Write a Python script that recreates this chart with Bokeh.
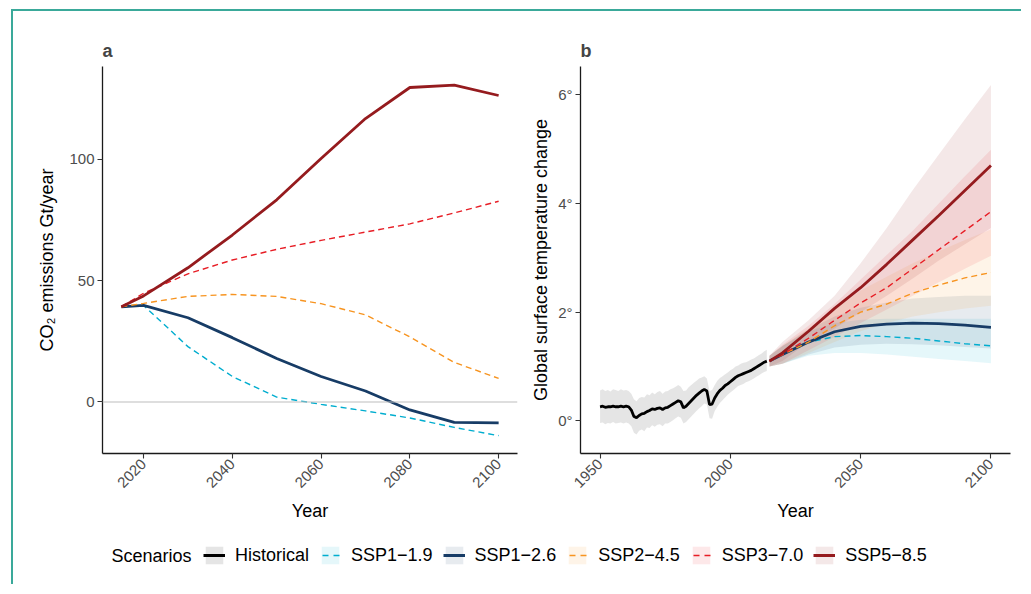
import math
from bokeh.plotting import figure
from bokeh.models import FixedTicker, Range1d, Span, Legend, LegendItem, Label
from bokeh.layouts import row, column
from bokeh.embed import file_html
from bokeh.resources import INLINE

FONT = "Liberation Sans"
NAN = float("nan")

# ---------------- data ----------------
proj_years = [2015, 2020, 2030, 2040, 2050, 2060, 2070, 2080, 2090, 2100]

# panel a: CO2 emissions (Gt/year)
em_ssp119 = [39.2, 39.8, 22.8, 10.5, 2.0, -1.0, -3.7, -6.6, -10.5, -13.9]
em_ssp126 = [39.2, 39.8, 34.7, 26.5, 17.9, 10.5, 4.5, -3.3, -8.4, -8.6]
em_ssp245 = [39.2, 40.6, 43.5, 44.3, 43.5, 40.5, 35.9, 26.8, 16.3, 9.7]
em_ssp370 = [39.2, 44.8, 52.8, 58.5, 62.9, 66.6, 70.0, 73.4, 77.9, 82.7]
em_ssp585 = [39.2, 43.7, 55.3, 68.8, 83.3, 100.3, 116.8, 129.6, 130.6, 126.3]

# panel b: historical temperature change
hist_years = list(range(1950, 2015))
hist_mid = [0.26, 0.27, 0.25, 0.26, 0.26, 0.27, 0.26, 0.26, 0.27, 0.26,
            0.27, 0.26, 0.20, 0.08, 0.06, 0.10, 0.13, 0.14, 0.17, 0.19,
            0.22, 0.21, 0.23, 0.24, 0.21, 0.24, 0.25, 0.28, 0.31, 0.34,
            0.37, 0.35, 0.24, 0.27, 0.32, 0.37, 0.42, 0.47, 0.51, 0.55,
            0.58, 0.55, 0.30, 0.31, 0.42, 0.50, 0.56, 0.60, 0.65, 0.68,
            0.72, 0.76, 0.80, 0.83, 0.85, 0.87, 0.89, 0.91, 0.93, 0.96,
            0.99, 1.02, 1.05, 1.08, 1.10]
hist_hi = [0.56, 0.58, 0.55, 0.57, 0.54, 0.58, 0.57, 0.55, 0.58, 0.56,
           0.57, 0.55, 0.50, 0.40, 0.36, 0.42, 0.44, 0.43, 0.49, 0.47,
           0.52, 0.49, 0.53, 0.55, 0.50, 0.54, 0.55, 0.58, 0.60, 0.63,
           0.66, 0.63, 0.55, 0.56, 0.62, 0.66, 0.70, 0.74, 0.78, 0.80,
           0.82, 0.78, 0.55, 0.57, 0.66, 0.74, 0.79, 0.82, 0.86, 0.89,
           0.93, 0.96, 1.00, 1.02, 1.05, 1.07, 1.08, 1.10, 1.13, 1.15,
           1.18, 1.21, 1.24, 1.28, 1.31]
hist_lo = [-0.04, -0.03, -0.06, -0.04, -0.05, -0.02, -0.05, -0.04, -0.03, -0.05,
           -0.03, -0.05, -0.10, -0.22, -0.25, -0.18, -0.16, -0.19, -0.12, -0.13,
           -0.08, -0.11, -0.07, -0.06, -0.10, -0.05, -0.05, -0.02, 0.01, 0.05,
           0.08, 0.06, -0.05, -0.02, 0.03, 0.08, 0.13, 0.18, 0.23, 0.27,
           0.32, 0.30, 0.05, 0.04, 0.18, 0.26, 0.33, 0.38, 0.43, 0.48,
           0.52, 0.56, 0.60, 0.64, 0.66, 0.68, 0.71, 0.73, 0.75, 0.78,
           0.81, 0.84, 0.87, 0.90, 0.92]

# panel b: projected temperature change (median, low, high)
t_ssp119 = [1.10, 1.22, 1.45, 1.55, 1.57, 1.55, 1.52, 1.47, 1.42, 1.38]
t_ssp119_lo = [1.00, 1.05, 1.20, 1.25, 1.25, 1.22, 1.18, 1.14, 1.10, 1.06]
t_ssp119_hi = [1.20, 1.38, 1.65, 1.80, 1.86, 1.88, 1.88, 1.88, 1.88, 1.88]

t_ssp126 = [1.10, 1.22, 1.45, 1.64, 1.74, 1.78, 1.80, 1.79, 1.76, 1.72]
t_ssp126_lo = [1.00, 1.05, 1.22, 1.35, 1.40, 1.42, 1.41, 1.39, 1.36, 1.33]
t_ssp126_hi = [1.20, 1.38, 1.68, 1.92, 2.08, 2.18, 2.25, 2.28, 2.30, 2.30]

t_ssp245 = [1.10, 1.22, 1.45, 1.75, 2.00, 2.15, 2.35, 2.50, 2.63, 2.73]
t_ssp245_lo = [1.00, 1.05, 1.25, 1.45, 1.65, 1.80, 1.92, 2.00, 2.07, 2.12]
t_ssp245_hi = [1.20, 1.38, 1.70, 2.05, 2.40, 2.65, 2.90, 3.12, 3.33, 3.52]

t_ssp370 = [1.10, 1.22, 1.52, 1.85, 2.17, 2.45, 2.80, 3.15, 3.50, 3.85]
t_ssp370_lo = [1.00, 1.05, 1.30, 1.55, 1.80, 2.05, 2.30, 2.55, 2.80, 3.04]
t_ssp370_hi = [1.20, 1.40, 1.75, 2.15, 2.60, 3.05, 3.50, 4.00, 4.50, 4.99]

t_ssp585 = [1.10, 1.25, 1.65, 2.07, 2.45, 2.88, 3.33, 3.78, 4.24, 4.70]
t_ssp585_lo = [1.00, 1.10, 1.45, 1.70, 2.00, 2.30, 2.62, 2.95, 3.25, 3.55]
t_ssp585_hi = [1.20, 1.45, 1.85, 2.30, 2.90, 3.55, 4.25, 4.90, 5.55, 6.18]

scenario_labels = ["Historical", "SSP1\u22121.9", "SSP1\u22122.6", "SSP2\u22124.5",
                   "SSP3\u22127.0", "SSP5\u22128.5"]
colors = ["black", "#00ADCF", "#173C66", "#F79420", "#E71D25", "#951B1E"]
dashes = ["solid", "dashed", "solid", "dashed", "dashed", "solid"]

xticks_a = [2020, 2040, 2060, 2080, 2100]
yticks_a = [0, 50, 100]
xticks_b = [1950, 2000, 2050, 2100]
yticks_b = [0, 2, 4, 6]
ytick_labels_b = ["0°", "2°", "4°", "6°"]

# ---------------- styling helpers ----------------
def width_of(style):
    return 2.8 if style == "solid" else 1.4

def dash_of(style):
    return "solid" if style == "solid" else "6 4"

def style_fig(p, xlab, ylab, ylab_standoff):
    p.xgrid.visible = False
    p.ygrid.visible = False
    p.outline_line_color = None
    p.background_fill_color = "white"
    p.border_fill_color = "white"
    for ax in (p.xaxis[0], p.yaxis[0]):
        ax.axis_line_color = "#1a1a1a"
        ax.axis_line_width = 1.3
        ax.major_tick_line_color = "#333333"
        ax.major_tick_line_width = 1.1
        ax.major_tick_out = 5
        ax.major_tick_in = 0
        ax.minor_tick_line_color = None
        ax.major_label_text_color = "#4d4d4d"
        ax.major_label_text_font = FONT
        ax.major_label_text_font_size = "15px"
        ax.axis_label_text_font = FONT
        ax.axis_label_text_font_size = "18px"
        ax.axis_label_text_font_style = "normal"
        ax.axis_label_text_color = "black"
    p.xaxis[0].axis_label = xlab
    p.yaxis[0].axis_label = ylab
    p.xaxis[0].major_label_orientation = math.pi / 4
    p.xaxis[0].major_label_standoff = 3
    p.yaxis[0].major_label_standoff = 3
    p.yaxis[0].axis_label_standoff = ylab_standoff
    p.xaxis[0].axis_label_standoff = 6
    p.title.text_font = FONT
    p.title.text_font_size = "18px"
    p.title.text_font_style = "bold"
    p.title.align = "left"
    p.title.standoff = 12

H = 518

# ---------------- panel a ----------------
pa = figure(width=507, height=H, output_backend="svg", toolbar_location=None,
            x_range=Range1d(2010.75, 2104.25), y_range=Range1d(-21.25, 138.25),
            title="a", min_border_left=89, min_border_right=3,
            min_border_top=55, min_border_bottom=76)
pa.xaxis.ticker = FixedTicker(ticks=xticks_a)
pa.yaxis.ticker = FixedTicker(ticks=yticks_a)
style_fig(pa, "Year", "CO\u2082 emissions Gt/year", 9)
pa.add_layout(Span(location=0, dimension="width", line_color="#bdbdbd", line_width=1.1))

em_series = [em_ssp119, em_ssp126, em_ssp245, em_ssp370, em_ssp585]
for i, ys in enumerate(em_series, start=1):
    pa.line(proj_years, ys, line_color=colors[i], line_width=width_of(dashes[i]),
            line_dash=dash_of(dashes[i]))

# ---------------- panel b ----------------
pb = figure(width=501, height=H, output_backend="svg", toolbar_location=None,
            x_range=Range1d(1942.5, 2107.5), y_range=Range1d(-0.6, 6.52),
            title="b", min_border_left=60, min_border_right=11,
            min_border_top=55, min_border_bottom=76)
pb.xaxis.ticker = FixedTicker(ticks=xticks_b)
pb.yaxis.ticker = FixedTicker(ticks=yticks_b)
pb.yaxis.major_label_overrides = {t: l for t, l in zip(yticks_b, ytick_labels_b)}
style_fig(pb, "Year", "Global surface temperature change", 4)

pb.varea(x=hist_years, y1=hist_lo, y2=hist_hi, fill_color="black", fill_alpha=0.1)
bands = [(t_ssp119_lo, t_ssp119_hi), (t_ssp126_lo, t_ssp126_hi), (t_ssp245_lo, t_ssp245_hi),
         (t_ssp370_lo, t_ssp370_hi), (t_ssp585_lo, t_ssp585_hi)]
for i, (lo, hi) in enumerate(bands, start=1):
    pb.varea(x=proj_years, y1=lo, y2=hi, fill_color=colors[i], fill_alpha=0.1)

pb.line(hist_years, hist_mid, line_color="black", line_width=2.8)
t_series = [t_ssp119, t_ssp126, t_ssp245, t_ssp370, t_ssp585]
for i, ys in enumerate(t_series, start=1):
    pb.line(proj_years, ys, line_color=colors[i], line_width=width_of(dashes[i]),
            line_dash=dash_of(dashes[i]))

# ---------------- legend ----------------
pl = figure(width=1008, height=55, output_backend="svg", toolbar_location=None,
            x_range=Range1d(0, 1), y_range=Range1d(0, 1),
            min_border=0, x_axis_location=None, y_axis_location=None)
pl.xgrid.visible = False
pl.ygrid.visible = False
pl.outline_line_color = None
items = []
for lab, col, st in zip(scenario_labels, colors, dashes):
    q = pl.quad(left=[NAN], right=[NAN], top=[NAN], bottom=[NAN], fill_color=col,
                fill_alpha=0.1, line_color=None)
    if st == "solid":
        ln = pl.line(x=[NAN, NAN], y=[NAN, NAN], line_color=col, line_width=3.0)
    else:
        ln = pl.line(x=[NAN, NAN], y=[NAN, NAN], line_color=col, line_width=1.5,
                     line_dash="6 5", line_dash_offset=8)
    items.append(LegendItem(label=lab, renderers=[q, ln]))
leg = Legend(items=items, orientation="horizontal", location=(190, 18),
             glyph_width=22, glyph_height=22, label_height=22, label_standoff=10,
             spacing=10, padding=0, margin=0, border_line_color=None,
             background_fill_alpha=0, label_text_font=FONT,
             label_text_font_size="18px", label_text_color="black")
pl.add_layout(leg)
pl.add_layout(Label(x=98, y=29, x_units="screen", y_units="screen", text="Scenarios",
                    text_font=FONT, text_font_size="18px", text_baseline="middle",
                    text_color="black"))

layout = column(row(pa, pb), pl,
                styles={"border-top": "2px solid #3aa99a", "border-left": "2px solid #3aa99a",
                        "margin-left": "11px", "margin-top": "9px"})

open("out.html", "w").write(file_html(layout, INLINE))
